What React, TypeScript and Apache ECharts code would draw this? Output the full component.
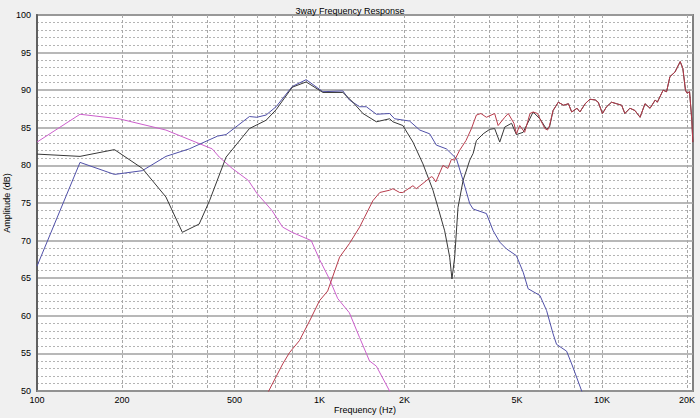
import React, { useEffect, useRef } from "react";
import * as echarts from "echarts";

// Frequency (Hz), amplitude (dB)
const wooferSeries: [number, number][] = [
  [100, 83.1], [142, 86.8], [195, 86.2], [286, 84.7], [417, 82.2], [442, 81.1], [491, 79.6],
  [560, 78.0], [600, 76.3], [679, 74.0], [740, 71.8], [800, 71.1], [935, 70.0], [1000, 67.5],
  [1084, 64.9], [1160, 62.3], [1276, 60.4], [1387, 57.1], [1503, 54.0], [1590, 53.3],
  [1771, 50.0], [1850, 48.5],
];

const midSeries: [number, number][] = [
  [100, 66.6], [142, 80.4], [188, 78.8], [236, 79.3], [286, 81.2], [346, 82.2], [436, 83.9],
  [467, 84.1], [565, 86.5], [600, 86.4], [647, 86.7], [702, 87.8], [801, 90.5], [897, 91.4],
  [1028, 89.8], [1210, 89.9], [1276, 88.7], [1387, 87.8], [1465, 87.8], [1590, 86.8],
  [1771, 86.9], [1845, 86.2], [2084, 85.9], [2264, 84.7], [2455, 84.2], [2592, 82.7],
  [2813, 82.2], [3052, 80.9], [3223, 78.0], [3404, 74.9], [3499, 74.2], [3898, 73.6],
  [4120, 71.3], [4346, 69.8], [4590, 68.9], [4977, 68.0], [5260, 65.8], [5477, 63.6],
  [6030, 62.7], [6367, 60.7], [6713, 57.6], [6906, 56.2], [7493, 55.3], [7813, 53.6],
  [8476, 50.0], [8800, 48.5],
];

const sumSeries: [number, number][] = [
  [100, 81.5], [142, 81.2], [188, 82.1], [236, 79.6], [286, 75.8], [327, 71.1], [375, 72.2],
  [408, 75.3], [467, 81.1], [565, 84.9], [647, 86.0], [702, 87.4], [801, 90.4], [897, 91.1],
  [1028, 89.7], [1210, 89.7], [1313, 88.4], [1425, 86.9], [1590, 85.8], [1771, 86.2],
  [1819, 85.8], [1973, 85.3], [2142, 83.1], [2324, 80.2], [2522, 76.7], [2628, 74.4],
  [2774, 71.3], [2890, 67.8], [2944, 64.9], [3010, 67.8], [3093, 74.4], [3223, 78.0],
  [3404, 80.7], [3499, 81.6], [3593, 83.3], [3797, 84.2], [4006, 84.8], [4170, 84.9],
  [4346, 83.1], [4528, 85.1], [4786, 85.6], [4977, 84.1], [5260, 84.4], [5704, 87.1],
  [6030, 86.2], [6367, 84.8], [6521, 85.1], [6713, 87.3],
];

const tweeterSeries: [number, number][] = [
  [600, 47.0], [661, 50.0], [741, 53.6], [783, 55.1], [849, 56.7], [922, 59.3], [1000, 62.0],
  [1069, 63.3], [1178, 67.8], [1276, 69.6], [1387, 71.8], [1545, 75.3], [1635, 76.4],
  [1771, 76.7], [1819, 76.9], [1922, 76.4], [1973, 76.4], [2142, 77.3], [2200, 76.9],
  [2324, 77.6], [2488, 78.5], [2522, 78.4], [2580, 77.8], [2735, 80.0], [2847, 79.6],
  [2931, 80.8], [3010, 80.7], [3133, 82.0], [3300, 83.3], [3451, 84.9], [3593, 86.7],
  [3727, 86.9], [3898, 86.4], [4170, 86.9], [4289, 85.3], [4528, 86.4], [4657, 86.9],
  [4880, 85.6], [4977, 84.2], [5115, 85.3], [5325, 84.4], [5561, 86.9], [5704, 87.1],
  [5915, 86.9], [6030, 86.2], [6278, 84.9], [6420, 84.7], [6520, 85.3], [6713, 87.3],
  [7003, 88.4], [7312, 88.0], [7607, 88.2], [7813, 87.1], [8160, 87.6], [8351, 87.1],
  [8720, 88.2], [9061, 88.8], [9469, 88.7], [9700, 88.4], [10040, 86.9], [10380, 87.8],
  [10810, 88.4], [11270, 88.2], [11740, 88.0], [12050, 86.9], [12560, 87.6], [13080, 87.3],
  [13640, 86.4], [14200, 88.2], [14800, 87.6], [15440, 88.7], [15700, 88.4], [16460, 90.0],
  [16930, 89.8], [17400, 91.8], [18120, 92.4], [18920, 93.8], [19330, 92.9], [19750, 90.0],
  [20000, 89.6], [20420, 89.8], [20800, 86.0], [20970, 83.1],
];

const xGridFreqs = [
  100, 200, 300, 400, 500, 600, 700, 800, 900,
  1000, 2000, 3000, 4000, 5000, 6000, 7000, 8000, 9000, 10000, 20000,
];
const xLabelFreqs = [100, 200, 500, 1000, 2000, 5000, 10000, 20000];
const xLabelTexts = ["100", "200", "500", "1K", "2K", "5K", "10K", "20K"];
const freqMin = 100;
const freqMax = 21000;
const dbMin = 50;
const dbMax = 100;
const dbStep = 5;

const FONT = "'Liberation Sans', Arial, sans-serif";

const toPts = (arr: [number, number][]) => arr.map(([f, d]) => [Math.log10(f), d]);

export default function App() {
  const ref = useRef<HTMLDivElement>(null);
  useEffect(() => {
    if (!ref.current) return;
    const chart = echarts.init(ref.current, undefined, { renderer: "svg" });
    const lastSum = sumSeries[sumSeries.length - 1][0];
    const sumFull = sumSeries.concat(tweeterSeries.filter(([f]) => f > lastSum));
    const lineStyleBase = { width: 1 };
    chart.setOption({
      animation: false,
      backgroundColor: "#f0f0f0",
      title: {
        text: "3way Frequency Response",
        left: "center",
        top: 1,
        textStyle: { fontSize: 9, fontWeight: "normal", color: "#000", fontFamily: FONT },
      },
      grid: {
        left: 37,
        right: 7,
        top: 15,
        bottom: 27,
        outerBoundsMode: "none",
        containLabel: false,
        show: true,
        backgroundColor: "#ffffff",
        borderColor: "#808080",
        borderWidth: 2,
      },
      xAxis: {
        type: "value",
        min: Math.log10(freqMin),
        max: Math.log10(freqMax),
        name: "Frequency (Hz)",
        nameLocation: "middle",
        nameGap: 14,
        nameMoveOverlap: false,
        nameTextStyle: { fontSize: 9, color: "#000", fontFamily: FONT },
        axisLine: { show: true, lineStyle: { color: "#909090", width: 1.5 } },
        axisTick: { show: false, customValues: xGridFreqs.map((f) => Math.log10(f)) },
        axisLabel: {
          customValues: xLabelFreqs.map((f) => Math.log10(f)),
          fontSize: 9,
          color: "#000",
          fontFamily: FONT,
          margin: 4,
          formatter: (v: number) => {
            const i = xLabelFreqs.findIndex((f) => Math.abs(Math.log10(f) - v) < 1e-6);
            return i >= 0 ? xLabelTexts[i] : "";
          },
        },
        splitLine: {
          show: true,
          lineStyle: { color: "#a8a8a8", width: 1, type: [3, 2] },
        },
      },
      yAxis: {
        type: "value",
        min: dbMin,
        max: dbMax,
        interval: dbStep,
        name: "Amplitude (dB)",
        nameLocation: "middle",
        nameGap: 25,
        nameMoveOverlap: false,
        nameTextStyle: { fontSize: 9, color: "#000", fontFamily: FONT, lineHeight: 10 },
        axisLine: { show: true, lineStyle: { color: "#606060", width: 2 } },
        axisTick: { show: false },
        axisLabel: { fontSize: 9, color: "#000", fontFamily: FONT, margin: 6 },
        splitLine: { show: true, lineStyle: { color: "#a0a0a0", width: 1.5 } },
        minorTick: { show: false, splitNumber: 5 },
        minorSplitLine: { show: true, lineStyle: { color: "#b4b4b4", width: 1, type: [2, 2] } },
      },
      series: [
        {
          type: "line",
          data: toPts(wooferSeries),
          showSymbol: false,
          symbol: "none",
          lineStyle: { ...lineStyleBase, color: "#cc5fcc" },
          itemStyle: { color: "#cc5fcc" },
          clip: true,
        },
        {
          type: "line",
          data: toPts(midSeries),
          showSymbol: false,
          symbol: "none",
          lineStyle: { ...lineStyleBase, color: "#5050a8" },
          itemStyle: { color: "#5050a8" },
          clip: true,
        },
        {
          type: "line",
          data: toPts(sumFull),
          showSymbol: false,
          symbol: "none",
          lineStyle: { ...lineStyleBase, color: "#383838" },
          itemStyle: { color: "#383838" },
          clip: true,
        },
        {
          type: "line",
          data: toPts(tweeterSeries),
          showSymbol: false,
          symbol: "none",
          lineStyle: { ...lineStyleBase, color: "#b83c4c" },
          itemStyle: { color: "#b83c4c" },
          clip: true,
        },
      ],
    });
    return () => chart.dispose();
  }, []);
  return (
    <div
      ref={ref}
      style={{ position: "absolute", left: 0, top: 0, width: 700, height: 418, background: "#f0f0f0" }}
    />
  );
}
